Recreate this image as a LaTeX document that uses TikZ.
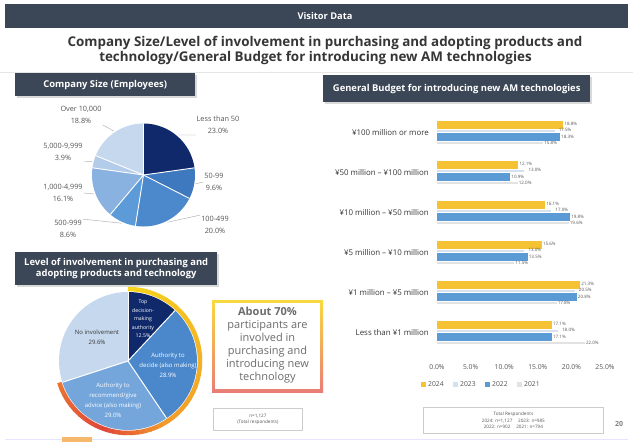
\documentclass[tikz,border=0pt]{standalone}
\usepackage{fontspec}
\setmainfont{Open Sans}
\usetikzlibrary{calc}
\definecolor{hdr}{HTML}{3B4656}
\definecolor{ttl}{HTML}{363636}
\definecolor{navy}{HTML}{10296B}
\definecolor{pbA}{HTML}{3E78BE}
\definecolor{pbB}{HTML}{4B89CC}
\definecolor{pbC}{HTML}{5C9BD8}
\definecolor{pbD}{HTML}{8AB2E0}
\definecolor{pbE}{HTML}{B3CCEA}
\definecolor{pbF}{HTML}{C6D8EE}
\definecolor{pieB}{HTML}{4A88CB}
\definecolor{pieC}{HTML}{74A6DC}
\definecolor{ylw}{HTML}{F5C233}
\definecolor{blu}{HTML}{5B9BD5}
\definecolor{thinA}{HTML}{D6E1EE}
\definecolor{thinB}{HTML}{E2E2E2}
\definecolor{ringY}{HTML}{F7D31E}
\definecolor{ringO}{HTML}{F29A2A}
\definecolor{ringR}{HTML}{E0453A}
\definecolor{txtg}{HTML}{555555}
\newcommand\pieslice[5]{\fill[#5] (#1) -- ++(#2:#4) arc[start angle=#2,end angle=#3,radius=#4] -- cycle;}
\begin{document}
\begin{tikzpicture}[x=1pt,y=-1pt,
  hdrbox/.style={fill=hdr, draw=none, anchor=north west, inner sep=0pt},
  hdrtext/.style={text=white, font=\fontsize{9.4}{11}\selectfont\bfseries, align=center},
  plab/.style={text=txtg, font=\fontsize{7.3}{12}\selectfont, align=center, inner sep=1pt},
  leader/.style={draw=gray!70, line width=0.4pt},
  wlab/.style={text=white, font=\fontsize{6}{10}\selectfont, align=center, inner sep=0pt},
  catlab/.style={text=ttl, font=\fontsize{7.9}{9}\selectfont, anchor=east, inner sep=1pt},
  vlab/.style={text=txtg, font=\fontsize{4.5}{5}\selectfont, anchor=west, inner sep=1pt},
  axlab/.style={text=txtg, font=\fontsize{6.8}{7}\selectfont},
  tinytext/.style={text=txtg, font=\fontsize{4.6}{6.5}\selectfont, align=center},
  titletext/.style={text=ttl, font=\fontsize{13.4}{16.5}\selectfont\bfseries, anchor=base},
  smallbox/.style={draw=gray!40, line width=0.8pt, fill=white, anchor=north west, inner sep=0pt}
  ]
\useasboundingbox (0,0) rectangle (633,442);
\fill[white] (0,0) rectangle (633,442);
% top bar and title
\node[hdrbox, minimum width=623, minimum height=24] (topbar) at (5,4) {};
\node[text=white, font=\fontsize{9.3}{10}\selectfont\bfseries] (toptext) at (325,16) {Visitor Data};
\node[titletext] (title1) at (325,46.5) {Company Size/Level of involvement in purchasing and adopting products and};
\node[titletext] (title2) at (315.5,61) {technology/General Budget for introducing new AM technologies};
\draw[gray!20, line width=0.8pt] (0,72) -- (633,72);
\draw[blue!10, line width=1pt] (5,439.5) -- (628,439.5);

% ---------------- Company size ----------------
\fill[gray!30] (17,75) rectangle (197,98);
\node[hdrbox, minimum width=180, minimum height=23] (h1) at (15,73) {};
\node[hdrtext] at (h1.center) {Company Size (Employees)};
\coordinate (p1) at (143.5,175);
\pieslice{p1}{-90}{-8}{51.5}{navy}
\pieslice{p1}{-8}{27}{51.5}{pbA}
\pieslice{p1}{27}{99}{51.5}{pbB}
\pieslice{p1}{99}{130}{51.5}{pbC}
\pieslice{p1}{130}{188}{51.5}{pbD}
\pieslice{p1}{188}{202}{51.5}{pbE}
\pieslice{p1}{202}{270}{51.5}{pbF}
\foreach \a in {-90,-8,27,99,130,188,202}{\draw[white, line width=0.9pt] (p1) -- ++(\a:51.5);}
\node[plab] (c1) at (218,125) {Less than 50\\23.0\%};
\node[plab] (c2) at (214,182) {50-99\\9.6\%};
\node[plab] (c3) at (215,225) {100-499\\20.0\%};
\node[plab] (c4) at (68,229) {500-999\\8.6\%};
\node[plab] (c5) at (63,193) {1,000-4,999\\16.1\%};
\node[plab] (c6) at (63,152) {5,000-9,999\\3.9\%};
\node[plab] (c7) at (81,115) {Over 10,000\\18.8\%};
\coordinate (e1) at ($(p1)+(-49:53)$);
\coordinate (e2) at ($(p1)+(9.5:53)$);
\coordinate (e3) at ($(p1)+(63:53)$);
\coordinate (e4) at ($(p1)+(114.5:53)$);
\coordinate (e5) at ($(p1)+(159:53)$);
\coordinate (e6) at ($(p1)+(195:53)$);
\coordinate (e7) at ($(p1)+(236:53)$);
\draw[leader] (c1.south west) -- (e1);
\draw[leader] (c2.west) -- (e2);
\draw[leader] (c3.north west) -- (e3);
\draw[leader] (c4.north east) -- (e4);
\draw[leader] (c5.east) -- (e5);
\draw[leader] (c6.south east) -- (e6);
\draw[leader] (c7.south east) -- (e7);

% ---------------- Involvement ----------------
\fill[gray!30] (17,254) rectangle (219,287);
\node[hdrbox, minimum width=202, minimum height=33] (h2) at (15,252) {};
\node[hdrtext] at (h2.center) {Level of involvement in purchasing and\\adopting products and technology};
\coordinate (p2) at (128,361);
\pieslice{p2}{-90}{-47}{69}{navy}
\pieslice{p2}{-47}{56}{69}{pieB}
\pieslice{p2}{56}{162}{69}{pieC}
\pieslice{p2}{162}{270}{69}{pbF}
\foreach \a in {-90,-47,56,162}{\draw[white, line width=1pt] (p2) -- ++(\a:69);}
\foreach \i in {0,...,49}{
  \pgfmathsetmacro\ringa{-90+\i*5.04}
  \pgfmathsetmacro\ringt{\i/49}
  \ifdim\ringt pt<0.35pt
    \pgfmathsetmacro\ringm{\ringt/0.35*60}
    \colorlet{rc}{ringO!\ringm!ringY}
  \else\ifdim\ringt pt<0.6pt
    \pgfmathsetmacro\ringm{60+(\ringt-0.35)/0.25*40}
    \colorlet{rc}{ringO!\ringm!ringY}
  \else\ifdim\ringt pt<0.8pt
    \pgfmathsetmacro\ringm{(\ringt-0.6)/0.2*100}
    \colorlet{rc}{ringR!\ringm!ringO}
  \else
    \pgfmathsetmacro\ringm{(\ringt-0.8)/0.2*55}
    \colorlet{rc}{ringO!\ringm!ringR}
  \fi\fi\fi
  \draw[rc, line width=4.5pt] (p2) ++(\ringa:72) arc[start angle=\ringa, end angle=\ringa+5.6, radius=72];
}
\node[wlab, font=\fontsize{5.2}{8.5}\selectfont] (s1) at (143,319) {Top\\decision-\\making\\authority\\12.5\%};
\node[wlab] (s2) at (168,365) {Authority to\\decide (also making)\\28.9\%};
\node[wlab] (s3) at (113,400) {Authority to\\recommend/give\\advice (also making)\\29.0\%};
\node[wlab, text=ttl] (s4) at (97,337) {No involvement\\29.6\%};
% callout
\shade[top color=ringY!85, bottom color=ringR!70!white] (212,300) rectangle (323,392);
\fill[white] (215,303) rectangle (320,389);
\node[text=gray!85!black, font=\fontsize{11}{13}\selectfont, align=center] (callout) at (267.5,345)
  {\textbf{About 70\%}\\participants are\\involved in\\purchasing and\\introducing new\\technology};
\node[smallbox, minimum width=89, minimum height=22] (nbox1) at (213,408) {};
\node[tinytext] at (nbox1.center) {n=1,127\\(Total respondents)};
\fill[ringO!70] (62,437) rectangle (92,442);

% ---------------- Budget ----------------
\fill[gray!30] (325,77) rectangle (592,104);
\node[hdrbox, minimum width=267, minimum height=27] (h3) at (323,75) {};
\node[hdrtext] at (h3.center) {General Budget for introducing new AM technologies};
\foreach \r/\lab/\ya/\yb/\yc/\yd in {
  0/{¥100 million or more}/18.8/17.5/18.3/15.8,
  1/{¥50 million – ¥100 million}/12.1/13.0/10.9/12.0,
  2/{¥10 million – ¥50 million}/16.1/17.0/19.8/19.6,
  3/{¥5 million – ¥10 million}/15.6/13.0/13.5/11.5,
  4/{¥1 million – ¥5 million}/21.3/20.5/20.8/17.8,
  5/{Less than ¥1 million}/17.1/18.0/17.1/22.0}{
  \pgfmathsetmacro\T{121+40*\r}
  \node[catlab] (cat\r) at (430,\T+12) {\lab};
  \fill[ylw] (437,\T) rectangle ({437+\ya*6.72},{\T+8});
  \fill[thinA] (437,\T+9) rectangle ({437+\yb*6.72},{\T+11});
  \fill[blu] (437,\T+12) rectangle ({437+\yc*6.72},{\T+20});
  \fill[thinB] (437,\T+21) rectangle ({437+\yd*6.72},{\T+23});
  \node[vlab] at ({437+\ya*6.72},{\T+3}) {\ya\%};
  \node[vlab] at ({440+\yb*6.72},{\T+9}) {\yb\%};
  \node[vlab] at ({437+\yc*6.72},{\T+16}) {\yc\%};
  \node[vlab] at ({437+\yd*6.72},{\T+22}) {\yd\%};
}
\foreach \k/\t in {0/0.0,1/5.0,2/10.0,3/15.0,4/20.0,5/25.0}{
  \node[axlab] at ({437+\k*33.6},367) {\t\%};
}
\foreach \k/\c/\t in {0/ylw/2024,1/thinA/2023,2/blu/2022,3/thinB/2021}{
  \fill[\c] ({421+\k*32},382) rectangle ({426+\k*32},387);
  \node[axlab, anchor=west, inner sep=1pt] at ({427+\k*32},384.5) {\t};
}
\node[smallbox, minimum width=180, minimum height=26] (nbox2) at (423,407) {};
\node[tinytext] at (nbox2.center) {Total Respondents\\2024: n=1,127 \quad 2023: n=985\\2022: n=902 \quad 2021: n=794};
\node[text=gray, font=\fontsize{7}{8}\selectfont\bfseries] (pg) at (619,424) {20};
\end{tikzpicture}
\end{document}
